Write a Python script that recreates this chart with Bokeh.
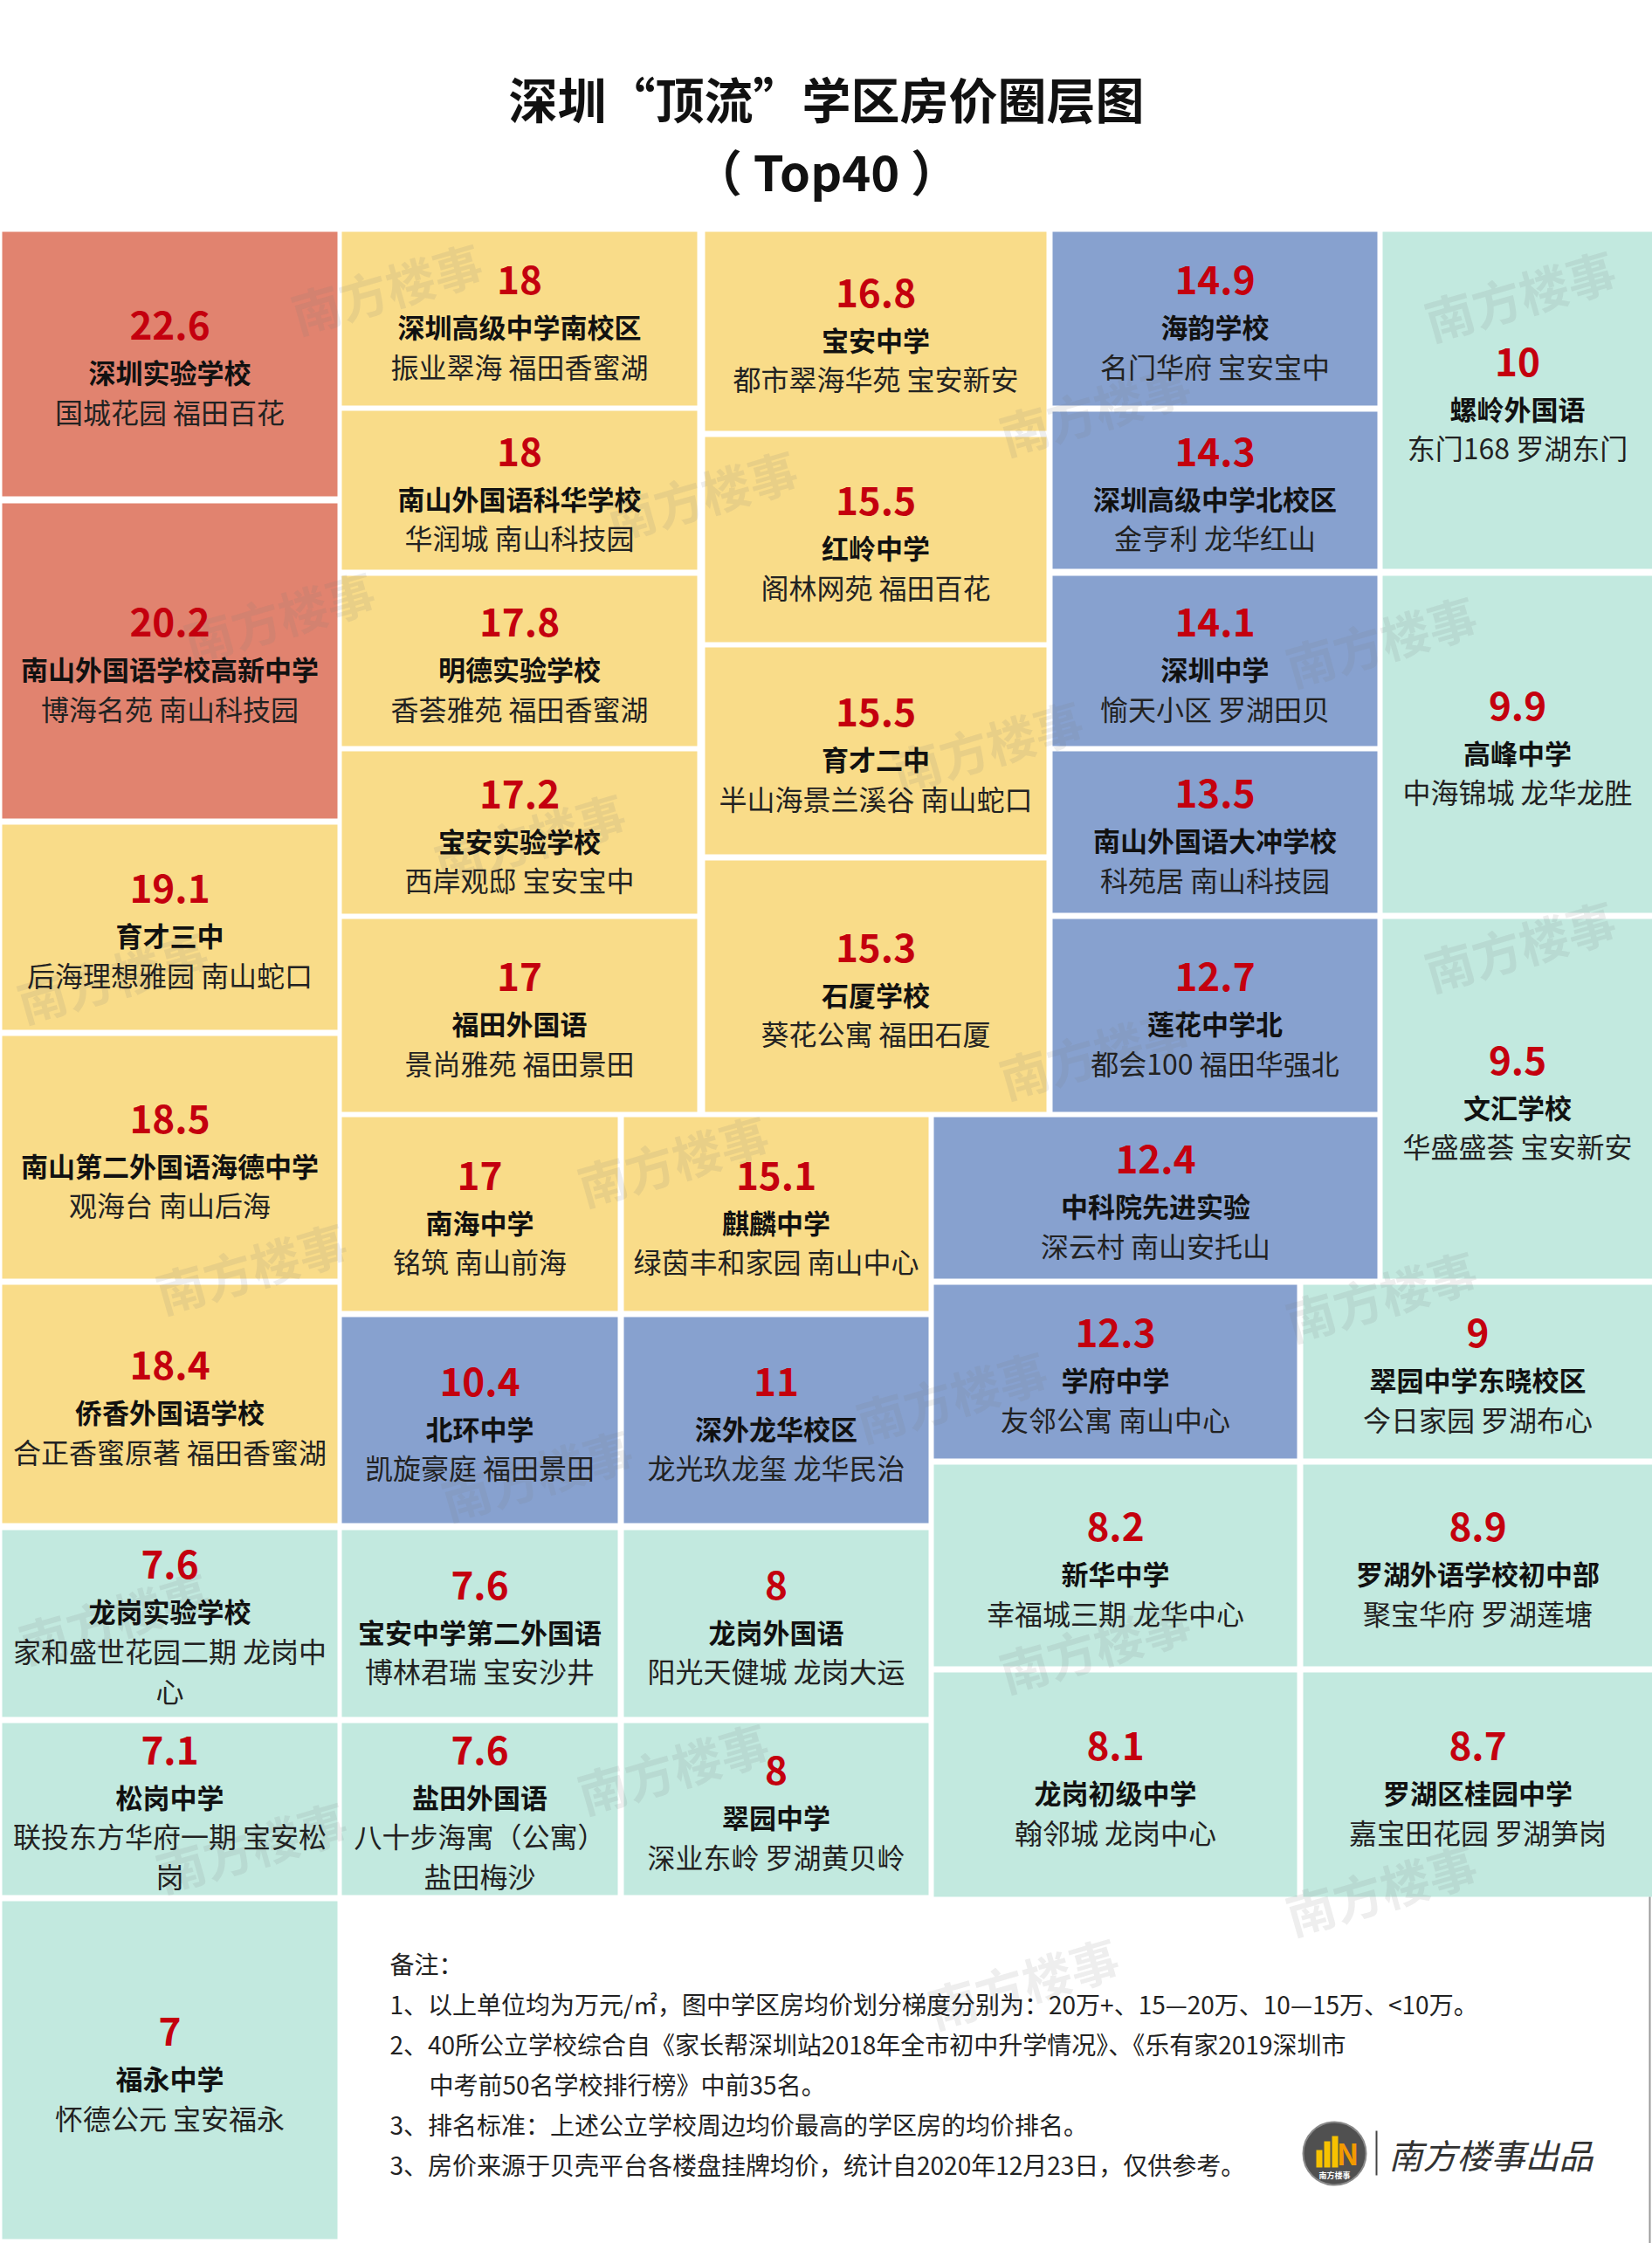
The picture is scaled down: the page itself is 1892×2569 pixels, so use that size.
from bokeh.plotting import figure
from bokeh.models import Range1d, ColumnDataSource
from bokeh.core.properties import value
from bokeh.embed import file_html
from bokeh.resources import INLINE

FONT = "Noto Sans CJK SC"

# ---------------- data (rank order 1..40) ----------------
prices = [22.6, 20.2, 19.1, 18.5, 18.4, 18, 18, 17.8, 17.2, 17,
          17, 16.8, 15.5, 15.5, 15.3, 15.1, 14.9, 14.3, 14.1, 13.5,
          12.7, 12.4, 12.3, 11, 10.4, 10, 9.9, 9.5, 9, 8.9,
          8.7, 8.2, 8.1, 8, 8, 7.6, 7.6, 7.6, 7.1, 7]
schools = ["深圳实验学校", "南山外国语学校高新中学", "育才三中", "南山第二外国语海德中学", "侨香外国语学校",
           "深圳高级中学南校区", "南山外国语科华学校", "明德实验学校", "宝安实验学校", "福田外国语",
           "南海中学", "宝安中学", "红岭中学", "育才二中", "石厦学校",
           "麒麟中学", "海韵学校", "深圳高级中学北校区", "深圳中学", "南山外国语大冲学校",
           "莲花中学北", "中科院先进实验", "学府中学", "深外龙华校区", "北环中学",
           "螺岭外国语", "高峰中学", "文汇学校", "翠园中学东晓校区", "罗湖外语学校初中部",
           "罗湖区桂园中学", "新华中学", "龙岗初级中学", "龙岗外国语", "翠园中学",
           "龙岗实验学校", "宝安中学第二外国语", "盐田外国语", "松岗中学", "福永中学"]
estates = ["国城花园 福田百花", "博海名苑 南山科技园", "后海理想雅园 南山蛇口", "观海台 南山后海", "合正香蜜原著 福田香蜜湖",
           "振业翠海 福田香蜜湖", "华润城 南山科技园", "香荟雅苑 福田香蜜湖", "西岸观邸 宝安宝中", "景尚雅苑 福田景田",
           "铭筑 南山前海", "都市翠海华苑 宝安新安", "阁林网苑 福田百花", "半山海景兰溪谷 南山蛇口", "葵花公寓 福田石厦",
           "绿茵丰和家园 南山中心", "名门华府 宝安宝中", "金亨利 龙华红山", "愉天小区 罗湖田贝", "科苑居 南山科技园",
           "都会100 福田华强北", "深云村 南山安托山", "友邻公寓 南山中心", "龙光玖龙玺 龙华民治", "凯旋豪庭 福田景田",
           "东门168 罗湖东门", "中海锦城 龙华龙胜", "华盛盛荟 宝安新安", "今日家园 罗湖布心", "聚宝华府 罗湖莲塘",
           "嘉宝田花园 罗湖笋岗", "幸福城三期 龙华中心", "翰邻城 龙岗中心", "阳光天健城 龙岗大运", "深业东岭 罗湖黄贝岭",
           "家和盛世花园二期 龙岗中\n心", "博林君瑞 宝安沙井", "八十步海寓（公寓）\n盐田梅沙", "联投东方华府一期 宝安松\n岗", "怀德公元 宝安福永"]

tier_colors = ["#E1836F", "#F9DC89", "#87A1CF", "#C2E9DF"]

title_lines = ["深圳“顶流”学区房价圈层图", "（ Top40 ）"]
note_lines = ["备注：",
              "1、以上单位均为万元/㎡，图中学区房均价划分梯度分别为：20万+、15—20万、10—15万、<10万。",
              "2、40所公立学校综合自《家长帮深圳站2018年全市初中升学情况》、《乐有家2019深圳市",
              "中考前50名学校排行榜》中前35名。",
              "3、排名标准：上述公立学校周边均价最高的学区房的均价排名。",
              "3、房价来源于贝壳平台各楼盘挂牌均价，统计自2020年12月23日，仅供参考。"]
brand = "南方楼事出品"
watermark = "南方楼事"

# ---------------- layout (page pixels) ----------------
COLS = {"A": (2, 386), "B": (391, 798), "BL": (391, 707), "BR": (714, 1063),
        "C": (807, 1198), "D": (1205, 1577), "DW": (1069, 1577), "DL": (1069, 1485),
        "E": (1583, 1892), "ER": (1492, 1892)}
cell_layout = [
    ("A", 265, 568), ("A", 576, 937), ("A", 944, 1179), ("A", 1186, 1464), ("A", 1471, 1744),
    ("B", 265, 464), ("B", 470, 652), ("B", 659, 854), ("B", 860, 1046), ("B", 1052, 1273),
    ("BL", 1279, 1501), ("C", 265, 493), ("C", 500, 735), ("C", 741, 978), ("C", 985, 1273),
    ("BR", 1279, 1501), ("D", 265, 464), ("D", 471, 651), ("D", 659, 854), ("D", 860, 1045),
    ("D", 1052, 1273), ("DW", 1279, 1464), ("DL", 1471, 1670), ("BR", 1508, 1744), ("BL", 1508, 1744),
    ("E", 265, 651), ("E", 659, 1045), ("E", 1052, 1464), ("ER", 1471, 1670), ("ER", 1677, 1908),
    ("ER", 1915, 2172), ("DL", 1677, 1908), ("DL", 1915, 2172), ("BR", 1752, 1966), ("BR", 1973, 2170),
    ("A", 1752, 1966), ("BL", 1752, 1966), ("BL", 1973, 2170), ("A", 1973, 2170), ("A", 2177, 2564)]

watermark_pos = [(442, 328), (1740, 336), (1253, 467), (803, 565), (319, 704), (1581, 732),
                 (606, 958), (1130, 852), (128, 1117), (1740, 1081), (1253, 1204), (770, 1327),
                 (287, 1450), (1581, 1482), (1089, 1597), (614, 1687), (130, 1851), (1253, 1884),
                 (770, 2023), (287, 2113), (1581, 2162), (1171, 2269)]


def tier(v):
    if v >= 20:
        return tier_colors[0]
    if v >= 15:
        return tier_colors[1]
    if v > 10:
        return tier_colors[2]
    return tier_colors[3]


W, H = 1892, 2569
p = figure(width=W, height=H, x_range=Range1d(0, W), y_range=Range1d(H, 0),
           output_backend="svg", toolbar_location=None, min_border=0,
           background_fill_color="white", border_fill_color="white")
p.axis.visible = False
p.grid.visible = False
p.outline_line_color = None

# cells
left = [COLS[c][0] for c, _, _ in cell_layout]
right = [COLS[c][1] for c, _, _ in cell_layout]
top = [y0 for _, y0, _ in cell_layout]
bottom = [y1 for _, _, y1 in cell_layout]
fills = [tier(v) for v in prices]
p.quad(left=left, right=right, top=top, bottom=bottom, fill_color=fills, line_color=None)

# watermarks
p.text(x=[q[0] for q in watermark_pos], y=[q[1] for q in watermark_pos], text=[watermark] * len(watermark_pos),
       text_font=value(FONT), text_font_size=value("56px"), text_font_style="bold",
       text_color="#7a7a7a", text_alpha=0.13, text_align="center", text_baseline="middle",
       angle=16, angle_units="deg")

# cell texts
styles = {"num": dict(size="44px", style="bold", color="#C4000E"),
          "name": dict(size="31px", style="bold", color="#111111"),
          "loc": dict(size="32px", style="normal", color="#222222")}
gaps = {"num": 53, "name": 45, "loc": 46}
txt = {k: dict(x=[], y=[], t=[]) for k in styles}
for i, v in enumerate(prices):
    x0, x1, y0, y1 = left[i], right[i], top[i], bottom[i]
    items = [("num", f"{v:g}"), ("name", schools[i])] + [("loc", s) for s in estates[i].split("\n")]
    offs = [0]
    for k, _ in items[:-1]:
        offs.append(offs[-1] + gaps[k])
    mean = sum(offs) / len(offs)
    cy = (y0 + y1) / 2 + 6
    for (k, s), o in zip(items, offs):
        txt[k]["x"].append((x0 + x1) / 2)
        txt[k]["y"].append(cy + o - mean)
        txt[k]["t"].append(s)
for k, st in styles.items():
    src = ColumnDataSource(dict(x=txt[k]["x"], y=txt[k]["y"], text=txt[k]["t"]))
    p.text(x="x", y="y", text="text", source=src, text_font=value(FONT),
           text_font_size=value(st["size"]), text_font_style=st["style"], text_color=st["color"],
           text_align="center", text_baseline="middle")

# title
p.text(x=[946, 946], y=[111, 194], text=title_lines, text_font=value(FONT), text_font_size=value("56px"),
       text_font_style="bold", text_color="#111111", text_align="center", text_baseline="middle")

# notes
note_x = [446, 446, 446, 491, 446, 446]
note_y = [2248, 2294, 2340, 2386, 2432, 2478]
p.text(x=note_x, y=note_y, text=note_lines, text_font=value(FONT), text_font_size=value("28px"),
       text_color="#222222", text_align="left", text_baseline="middle")

# brand logo
p.circle(x=[1528], y=[2466], radius=36, fill_color="#505050", line_color="#8a8a8a", line_width=2)
p.quad(left=[1507, 1516, 1525], right=[1514, 1523, 1532], top=[2462, 2452, 2446], bottom=[2482, 2482, 2482],
       fill_color="#F7C200", line_color=None)
p.text(x=[1543], y=[2465], text=["N"], text_font=value(FONT), text_font_size=value("34px"),
       text_font_style="bold", text_color="#F39A00", text_align="center", text_baseline="middle")
p.text(x=[1528], y=[2491], text=[watermark], text_font=value(FONT), text_font_size=value("9px"),
       text_font_style="bold", text_color="white", text_align="center", text_baseline="middle")
p.segment(x0=[1576], y0=[2440], x1=[1576], y1=[2491], line_color="#444444", line_width=2)
p.text(x=[1590], y=[2466], text=[brand], text_font=value(FONT), text_font_size=value("39px"),
       text_font_style="italic", text_color="#333333", text_align="left", text_baseline="middle")
p.segment(x0=[1889], y0=[2172], x1=[1889], y1=[2569], line_color="#9a9a9a", line_width=2)

open("out.html", "w").write(file_html(p, INLINE))
